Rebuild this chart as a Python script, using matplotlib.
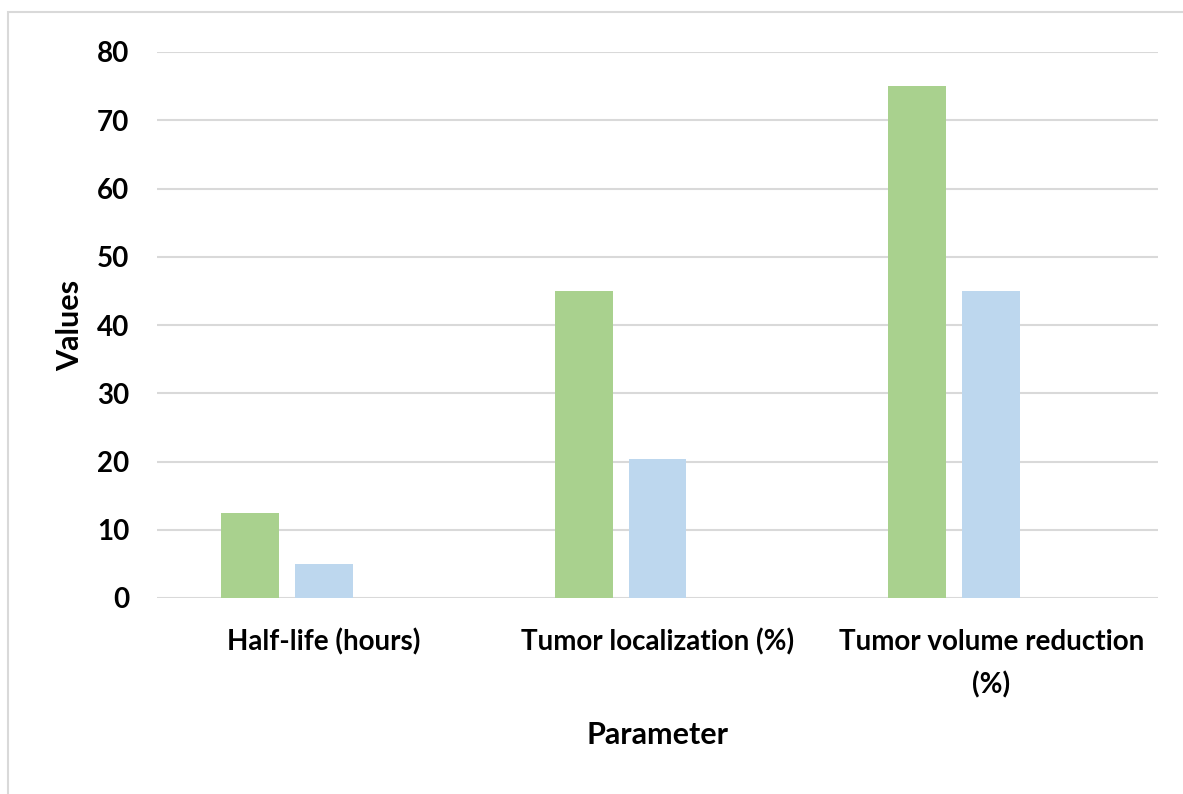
import matplotlib
matplotlib.use("Agg")
import matplotlib.pyplot as plt
import numpy as np
from matplotlib.patches import Rectangle

categories = ["Half-life (hours)", "Tumor localization (%)", "Tumor volume reduction\n(%)"]
series_green = [12.5, 45, 75]
series_blue = [5, 20.3, 45]
y_ticks = [0, 10, 20, 30, 40, 50, 60, 70, 80]

plt.rcParams["font.family"] = ["Lato", "DejaVu Sans"]
plt.rcParams["font.weight"] = "bold"

fig = plt.figure(figsize=(11.83, 7.94), dpi=100)
# light grey frame around the chart area, cut off at right and bottom
fig.patches.append(Rectangle((8 / 1183, -0.05), 1.2, 1 - 12 / 794 + 0.05, transform=fig.transFigure,
                             fill=False, edgecolor="#D9D9D9", linewidth=1.5))

ax = fig.add_axes([157 / 1183, 1 - 598 / 794, (1158 - 157) / 1183, (598 - 52) / 794])
x = np.arange(len(categories))
w = 58 / 333.7
step = 74 / 333.7
ax.bar(x - step, series_green, width=w, color="#A9D18E", zorder=3)
ax.bar(x, series_blue, width=w, color="#BDD7EE", zorder=3)

ax.set_xlim(-0.5, len(categories) - 0.5)
ax.set_ylim(0, 80)
ax.set_yticks(y_ticks)
ax.yaxis.grid(True, color="#D9D9D9", linewidth=1.5, zorder=0)
ax.set_axisbelow(True)
for s in ax.spines.values():
    s.set_visible(False)
ax.tick_params(axis="both", length=0, labelsize=20)
ax.tick_params(axis="y", pad=20)
ax.tick_params(axis="x", pad=22)
ax.set_xticks(x)
ax.set_xticklabels(categories, fontweight="bold", linespacing=1.75, va="top")

ax.set_ylabel("Values", fontsize=22, fontweight="bold", labelpad=9)
ax.set_xlabel("Parameter", fontsize=22, fontweight="bold", labelpad=16)

fig.savefig("out.png", dpi=100)
